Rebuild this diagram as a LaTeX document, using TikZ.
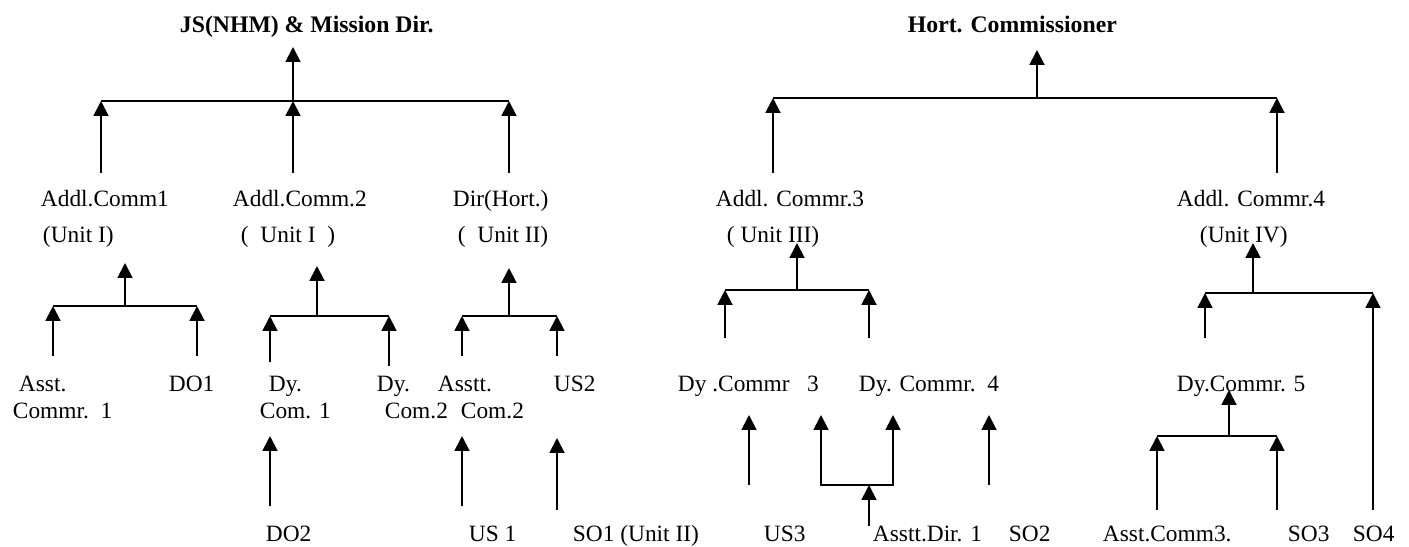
\documentclass[tikz,border=0pt]{standalone}
\usepackage{fontspec}
\setmainfont{Liberation Serif}
\usetikzlibrary{arrows.meta}
\tikzset{
  up/.style={-{Triangle[width=8.5pt,length=8.5pt]}},
  fork/.style={{Triangle[width=8.5pt,length=8.5pt]}-{Triangle[width=8.5pt,length=8.5pt]}},
  lbl/.style={anchor=base west,inner sep=0pt,font=\fontsize{13.3}{16}\selectfont},
  head/.style={anchor=base west,inner sep=0pt,font=\bfseries\fontsize{13.5}{16}\selectfont}
}

\begin{document}
\begin{tikzpicture}[x=0.2mm,y=-0.2mm,line width=1.1pt]
 \useasboundingbox (0,0) rectangle (1409,546);

 % heads
 \node[head] (js) at (179,32) {JS(NHM) \& Mission Dir.};
 \node[head] (hc) at (907,32) {Hort. Commissioner};

 % first level
 \node[lbl] (ad1) at (40,206) {Addl.Comm1};
 \node[lbl] (ad1u) at (42,242) {(Unit I)};
 \node[lbl] (ad2) at (232,206) {Addl.Comm.2};
 \node[lbl] (ad2u) at (240,242) {(\ \ Unit I\ \ )};
 \node[lbl] (dh) at (452,206) {Dir(Hort.)};
 \node[lbl] (dhu) at (457,242) {(\ \ Unit II)};
 \node[lbl] (ad3) at (715,206) {Addl. Commr.3};
 \node[lbl] (ad3u) at (726,242) {( Unit III)};
 \node[lbl] (ad4) at (1176,206) {Addl. Commr.4};
 \node[lbl] (ad4u) at (1199,242) {(Unit IV)};

 % second level
 \node[lbl] (as1) at (18,391) {Asst.};
 \node[lbl] (as1b) at (12,418) {Commr.\ \ 1};
 \node[lbl] (do1) at (168,391) {DO1};
 \node[lbl] (dy1) at (268,391) {Dy.};
 \node[lbl] (dy1b) at (259,418) {Com. 1};
 \node[lbl] (dy2) at (376,391) {Dy.};
 \node[lbl] (dy2b) at (384,418) {Com.2};
 \node[lbl] (as2) at (437,391) {Asstt.};
 \node[lbl] (as2b) at (460,418) {Com.2};
 \node[lbl] (us2) at (553,391) {US2};
 \node[lbl] (dy3) at (677,391) {Dy .Commr\ \ \ 3};
 \node[lbl] (dy4) at (858,391) {Dy. Commr.\ \ 4};
 \node[lbl] (dy5) at (1176,391) {Dy.Commr. 5};

 % third level
 \node[lbl] (do2) at (265,541) {DO2};
 \node[lbl] (us1) at (468,541) {US 1};
 \node[lbl] (so1) at (572,541) {SO1 (Unit II)};
 \node[lbl] (us3) at (763,541) {US3};
 \node[lbl] (aad) at (872,541) {Asstt.Dir. 1};
 \node[lbl] (so2) at (1008,541) {SO2};
 \node[lbl] (ac3) at (1102,541) {Asst.Comm3.};
 \node[lbl] (so3) at (1287,541) {SO3};
 \node[lbl] (so4) at (1352,541) {SO4};

 % left tree
 \coordinate (jsT) at (293,47);
 \coordinate (jsM) at (293,101);
 \coordinate (jsL) at (101,101);
 \coordinate (jsR) at (509,101);
 \coordinate (ad1t) at (101,173);
 \coordinate (ad2t) at (293,173);
 \coordinate (dht) at (509,173);
 \draw[up] (jsM) -- (jsT);
 \draw (jsL) -- (jsR);
 \draw[up] (ad1t) -- (jsL);
 \draw[up] (ad2t) -- (jsM);
 \draw[up] (dht) -- (jsR);

 \coordinate (gAt) at (125,263);
 \coordinate (gAm) at (125,306);
 \coordinate (gAl) at (53,306);
 \coordinate (gAr) at (197,306);
 \coordinate (as1t) at (53,356);
 \coordinate (do1t) at (197,356);
 \draw[up] (gAm) -- (gAt);
 \draw (gAl) -- (gAr);
 \draw[up] (as1t) -- (gAl);
 \draw[up] (do1t) -- (gAr);

 \coordinate (gBt) at (317,266);
 \coordinate (gBm) at (317,316);
 \coordinate (gBl) at (270,316);
 \coordinate (gBr) at (389,316);
 \coordinate (dy1t) at (270,362);
 \coordinate (dy2t) at (389,366);
 \coordinate (dy1d) at (270,436);
 \coordinate (do2t) at (270,506);
 \draw[up] (gBm) -- (gBt);
 \draw (gBl) -- (gBr);
 \draw[up] (dy1t) -- (gBl);
 \draw[up] (dy2t) -- (gBr);
 \draw[up] (do2t) -- (dy1d);

 \coordinate (gCt) at (509,268);
 \coordinate (gCm) at (509,316);
 \coordinate (gCl) at (462,316);
 \coordinate (gCr) at (557,316);
 \coordinate (as2t) at (462,356);
 \coordinate (us2t) at (557,356);
 \coordinate (as2d) at (462,436);
 \coordinate (us1t) at (462,506);
 \coordinate (us2d) at (557,438);
 \coordinate (so1t) at (557,510);
 \draw[up] (gCm) -- (gCt);
 \draw (gCl) -- (gCr);
 \draw[up] (as2t) -- (gCl);
 \draw[up] (us2t) -- (gCr);
 \draw[up] (us1t) -- (as2d);
 \draw[up] (so1t) -- (us2d);

 % right tree
 \coordinate (hcT) at (1037,50);
 \coordinate (hcM) at (1037,98);
 \coordinate (hcL) at (773,98);
 \coordinate (hcR) at (1277,98);
 \coordinate (ad3t) at (773,173);
 \coordinate (ad4t) at (1277,173);
 \draw[up] (hcM) -- (hcT);
 \draw (hcL) -- (hcR);
 \draw[up] (ad3t) -- (hcL);
 \draw[up] (ad4t) -- (hcR);

 \coordinate (gDt) at (797,243);
 \coordinate (gDm) at (797,290);
 \coordinate (gDl) at (725,290);
 \coordinate (gDr) at (869,290);
 \coordinate (dy3t) at (725,338);
 \coordinate (dy4t) at (869,338);
 \draw[up] (gDm) -- (gDt);
 \draw (gDl) -- (gDr);
 \draw[up] (dy3t) -- (gDl);
 \draw[up] (dy4t) -- (gDr);

 \coordinate (dy3d) at (749,415);
 \coordinate (us3t) at (749,485);
 \draw[up] (us3t) -- (dy3d);

 \coordinate (fkL) at (821,415);
 \coordinate (fkLb) at (821,485);
 \coordinate (fkRb) at (893,485);
 \coordinate (fkR) at (893,415);
 \coordinate (fkM) at (869,485);
 \coordinate (aadt) at (869,526);
 \draw[fork] (fkL) -- (fkLb) -- (fkRb) -- (fkR);
 \draw[up] (aadt) -- (fkM);

 \coordinate (dy4d) at (989,415);
 \coordinate (so2t) at (989,485);
 \draw[up] (so2t) -- (dy4d);

 \coordinate (gEt) at (1253,243);
 \coordinate (gEm) at (1253,293);
 \coordinate (gEl) at (1205,293);
 \coordinate (gEr) at (1373,293);
 \coordinate (dy5t) at (1205,338);
 \coordinate (so4t) at (1373,510);
 \draw[up] (gEm) -- (gEt);
 \draw (gEl) -- (gEr);
 \draw[up] (dy5t) -- (gEl);
 \draw[up] (so4t) -- (gEr);

 \coordinate (gFt) at (1229,390);
 \coordinate (gFm) at (1229,436);
 \coordinate (gFl) at (1157,436);
 \coordinate (gFr) at (1277,436);
 \coordinate (ac3t) at (1157,510);
 \coordinate (so3t) at (1277,510);
 \draw[up] (gFm) -- (gFt);
 \draw (gFl) -- (gFr);
 \draw[up] (ac3t) -- (gFl);
 \draw[up] (so3t) -- (gFr);
\end{tikzpicture}
\end{document}
